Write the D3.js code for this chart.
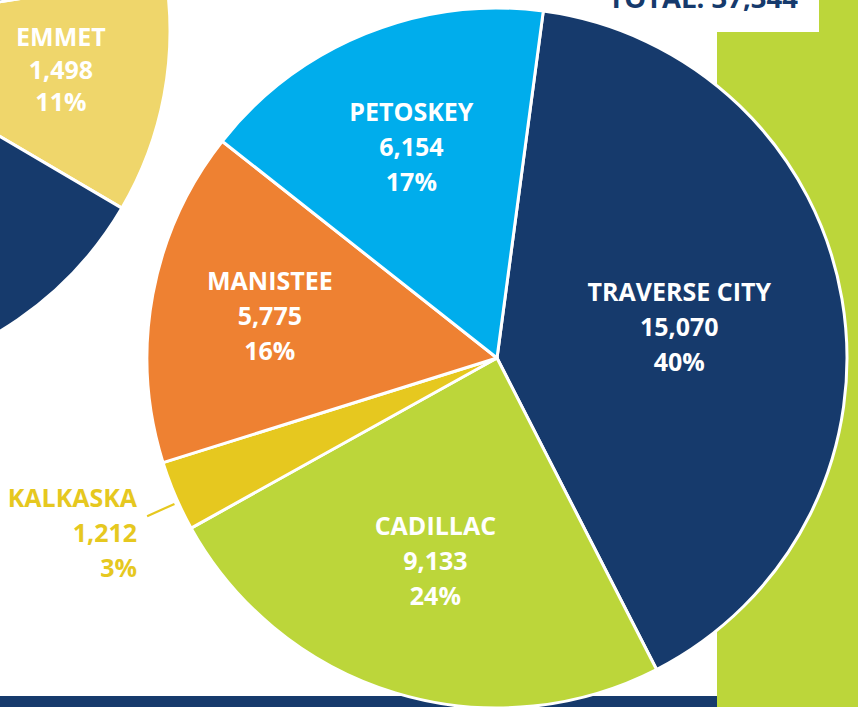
<!DOCTYPE html>
<meta charset="utf-8">
<style>
    body {
        margin: 0;
        background: #fff;
    }
    svg {
        display: block;
        font-family: "Open Sans", sans-serif;
        font-weight: 700;
    }
    .slice {
        stroke: #fff;
        stroke-width: 3px;
        stroke-linejoin: round;
    }
    .label text {
        fill: #fff;
        font-size: 25px;
        text-anchor: middle;
    }
</style>
<body>
<script src="https://cdn.jsdelivr.net/npm/d3@7"></script>
<script>
    // main pie: enrollment by county, clockwise from the top
    const counties = ["TRAVERSE CITY", "CADILLAC", "KALKASKA", "MANISTEE", "PETOSKEY"];
    const enrollments = [15070, 9133, 1212, 5775, 6154];
    const percents = ["40%", "24%", "3%", "16%", "17%"];
    const colors = ["#163a6c", "#bcd63a", "#e6c81f", "#ee8132", "#00adec"];

    // neighbouring pie, only partly on the page
    const leftCounties = ["EMMET", "OTHER"];
    const leftValues = [1498, 12120];
    const leftPercents = ["11%", ""];
    const leftColors = ["#efd66b", "#163a6c"];

    const width = 858;
    const height = 707;
    const radius = 350;
    const deg = Math.PI / 180;
    const fmt = d3.format(",");

    const svg = d3.select("body")
        .append("svg")
        .attr("width", width)
        .attr("height", height);

    // background blocks
    svg.append("rect")
        .attr("x", 717).attr("y", 0)
        .attr("width", width - 717).attr("height", height)
        .style("fill", "#bcd63a");

    svg.append("rect")
        .attr("x", 590).attr("y", 0)
        .attr("width", 819 - 590).attr("height", 32)
        .style("fill", "#fff");

    svg.append("text")
        .attr("x", 798).attr("y", 8)
        .style("text-anchor", "end")
        .style("font-size", "27.5px")
        .style("fill", "#163a6c")
        .text("TOTAL: " + fmt(d3.sum(enrollments)));

    svg.append("rect")
        .attr("x", 0).attr("y", 696)
        .attr("width", 717).attr("height", height - 696)
        .style("fill", "#163a6c");

    const arc = d3.arc().innerRadius(0).outerRadius(radius);

    function polar(r, a) {
        return [r * Math.sin(a), -r * Math.cos(a)];
    }

    // left pie
    const leftPie = d3.pie().sort(null).startAngle(80.8 * deg).endAngle(440.8 * deg);
    const leftG = svg.append("g").attr("transform", "translate(-180,31)");
    const leftArcs = leftPie(leftValues);

    leftG.selectAll("path")
        .data(leftArcs)
        .enter().append("path")
        .attr("class", "slice")
        .attr("d", arc)
        .style("fill", (d, i) => leftColors[i]);

    const emmet = leftArcs[0];
    const ep = polar(244, (emmet.startAngle + emmet.endAngle) / 2 - 1.5 * deg);
    const emmetLabel = leftG.append("g")
        .attr("class", "label")
        .attr("transform", `translate(${ep[0]},${ep[1]})`);
    [leftCounties[0], fmt(leftValues[0]), leftPercents[0]].forEach((t, j) => {
        emmetLabel.append("text").attr("y", 9 + (j - 1) * 32.5).text(t);
    });

    // main pie
    const pie = d3.pie().sort(null).startAngle(7.6 * deg).endAngle(367.6 * deg);
    const arcs = pie(enrollments);
    const g = svg.append("g").attr("transform", "translate(497,358)");

    g.selectAll("path")
        .data(arcs)
        .enter().append("path")
        .attr("class", "slice")
        .attr("d", arc)
        .style("fill", (d, i) => colors[i]);

    // label distance from the centre for each slice
    const labelR = {"TRAVERSE CITY": 185, "CADILLAC": 212, "MANISTEE": 231, "PETOSKEY": 228};

    arcs.forEach((d, i) => {
        const mid = (d.startAngle + d.endAngle) / 2;
        const lines = [counties[i], fmt(enrollments[i]), percents[i]];
        if (counties[i] === "KALKASKA") {
            const p0 = polar(radius + 4, mid - 1.1 * deg);
            const p1 = polar(radius + 34, mid - 1.1 * deg);
            g.append("line")
                .attr("x1", p0[0]).attr("y1", p0[1])
                .attr("x2", p1[0]).attr("y2", p1[1])
                .style("stroke", colors[i])
                .style("stroke-width", 2.2);
            const kl = g.append("g")
                .attr("transform", `translate(${p1[0] - 10},${p1[1] + 26})`);
            lines.forEach((t, j) => {
                kl.append("text")
                    .attr("y", (j - 1) * 35)
                    .style("text-anchor", "end")
                    .style("font-size", "25px")
                    .style("fill", colors[i])
                    .text(t);
            });
            return;
        }
        const p = polar(labelR[counties[i]], mid);
        const lab = g.append("g")
            .attr("class", "label")
            .attr("transform", `translate(${p[0]},${p[1]})`);
        lines.forEach((t, j) => {
            lab.append("text").attr("y", 9 + (j - 1) * 35).text(t);
        });
    });
</script>
</body>
</html>
